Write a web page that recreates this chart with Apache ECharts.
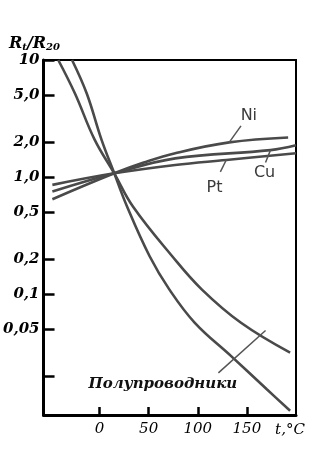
<!DOCTYPE html>
<html>
<head>
<meta charset="utf-8">
<script src="https://cdn.jsdelivr.net/npm/echarts@6/dist/echarts.min.js"></script>
<style>
    html, body { margin: 0; padding: 0; background: #fff; }
    #chart { width: 336px; height: 456px; }
</style>
</head>
<body>
<div id="chart"></div>
<script>
// R_t / R_20 against temperature, metals and semiconductors
const yTicks = [10, 5, 2, 1, 0.5, 0.2, 0.1, 0.05, 0.02];
const yLabels = [10, 5, 2, 1, 0.5, 0.2, 0.1, 0.05];
const xTicks = [0, 50, 100, 150];

const niT = [-48, 15, 45, 77, 132, 192];
const niR = [0.647, 1.077, 1.33, 1.6, 1.98, 2.18];
const cuT = [-48, 15, 77, 174, 200];
const cuR = [0.753, 1.077, 1.445, 1.70, 1.87];
const ptT = [-48, 15, 77, 129, 200];
const ptR = [0.858, 1.077, 1.27, 1.40, 1.60];

const semiAT = [-42, -25, -5, 15, 34, 74, 104, 144, 194];
const semiAR = [10, 5.17, 2.09, 1.077, 0.561, 0.211, 0.110, 0.057, 0.0317];
const semiBT = [-28, -13, 2, 15, 28, 51, 71, 97, 134, 170, 194];
const semiBR = [10, 5.17, 2.09, 1.077, 0.561, 0.211, 0.110, 0.057, 0.0296, 0.0155, 0.0101];

const pairs = (t, r) => t.map((v, i) => [v, r[i]]);
const lineColor = '#4a4a4a';
const serif = '"DejaVu Serif", "Liberation Serif", serif';
const sans = '"DejaVu Sans", sans-serif';

function curve(name, t, r, extra) {
    return Object.assign({
        name: name,
        type: 'line',
        data: pairs(t, r),
        smooth: 0.4,
        showSymbol: false,
        symbol: 'none',
        lineStyle: { color: lineColor, width: 2.6 },
        silent: true,
        z: 3
    }, extra || {});
}

function leader(a, b) {
    return [{ coord: a }, { coord: b }];
}

function note(text, coord, style) {
    return {
        coord: coord,
        symbol: 'circle',
        symbolSize: 0,
        label: Object.assign({ show: true, position: 'inside', formatter: text }, style)
    };
}

const leaderStyle = { color: '#555', width: 1.5, type: 'solid' };
const metalLabel = { fontFamily: sans, fontSize: 16, color: '#3a3a3a' };

const chart = echarts.init(document.getElementById('chart'));
chart.setOption({
    animation: false,
    backgroundColor: '#fff',
    grid: {
        left: 38, right: 40, top: 60, bottom: 41,
        show: true, borderColor: '#000', borderWidth: 2, backgroundColor: 'transparent'
    },
    xAxis: {
        type: 'value',
        min: -57, max: 200,
        name: 't,°C',
        nameLocation: 'end',
        nameGap: -6,
        nameTextStyle: {
            fontFamily: serif, fontStyle: 'italic', fontSize: 15, color: '#000',
            align: 'center', verticalAlign: 'top', padding: [8, 0, 0, 0]
        },
        splitLine: { show: false },
        axisLine: { onZero: false, lineStyle: { color: '#000', width: 3 } },
        axisTick: { inside: true, length: 8, lineStyle: { color: '#000', width: 2.5 }, customValues: xTicks },
        axisLabel: {
            customValues: xTicks, margin: 7,
            fontFamily: serif, fontStyle: 'italic', fontSize: 15, color: '#000'
        }
    },
    yAxis: {
        type: 'log',
        logBase: 10,
        min: 0.0093, max: 10,
        name: '{r|R}{s|t}{r|/R}{s|20}',
        nameLocation: 'end',
        nameGap: 3,
        nameTextStyle: {
            padding: [0, 18, 0, 0],
            rich: {
                r: { fontFamily: serif, fontStyle: 'italic', fontWeight: 'bold', fontSize: 16, color: '#000' },
                s: { fontFamily: serif, fontStyle: 'italic', fontWeight: 'bold', fontSize: 10, color: '#000', padding: [8, 0, 0, 0] }
            }
        },
        splitLine: { show: false },
        axisLine: { onZero: false, lineStyle: { color: '#000', width: 3 } },
        axisTick: { inside: true, length: 11, lineStyle: { color: '#000', width: 2.5 }, customValues: yTicks },
        axisLabel: {
            customValues: yLabels, margin: 4,
            fontFamily: serif, fontStyle: 'italic', fontWeight: 'bold', fontSize: 15, color: '#000',
            formatter: v => v === 10 ? '10' : (v >= 1 ? v.toFixed(1) : String(v)).replace('.', ',')
        }
    },
    series: [
        curve('Ni', niT, niR, {
            markLine: {
                silent: true, symbol: 'none', label: { show: false }, lineStyle: leaderStyle,
                data: [leader([132, 1.98], [144, 2.74])]
            },
            markPoint: { silent: true, data: [note('Ni', [152, 3.33], metalLabel)] }
        }),
        curve('Cu', cuT, cuR, {
            markLine: {
                silent: true, symbol: 'none', label: { show: false }, lineStyle: leaderStyle,
                data: [leader([174, 1.70], [169, 1.33])]
            },
            markPoint: { silent: true, data: [note('Cu', [168, 1.09], metalLabel)] }
        }),
        curve('Pt', ptT, ptR, {
            markLine: {
                silent: true, symbol: 'none', label: { show: false }, lineStyle: leaderStyle,
                data: [leader([129, 1.40], [123, 1.11])]
            },
            markPoint: { silent: true, data: [note('Pt', [117, 0.814], metalLabel)] }
        }),
        curve('semiA', semiAT, semiAR, {
            markLine: {
                silent: true, symbol: 'none', label: { show: false }, lineStyle: leaderStyle,
                data: [leader([121, 0.0213], [169, 0.049])]
            },
            markPoint: {
                silent: true,
                data: [note('Полупроводники', [64.5, 0.0171], {
                    fontFamily: serif, fontStyle: 'italic', fontWeight: 'bold', fontSize: 15, color: '#111'
                })]
            }
        }),
        curve('semiB', semiBT, semiBR)
    ]
});
</script>
</body>
</html>
